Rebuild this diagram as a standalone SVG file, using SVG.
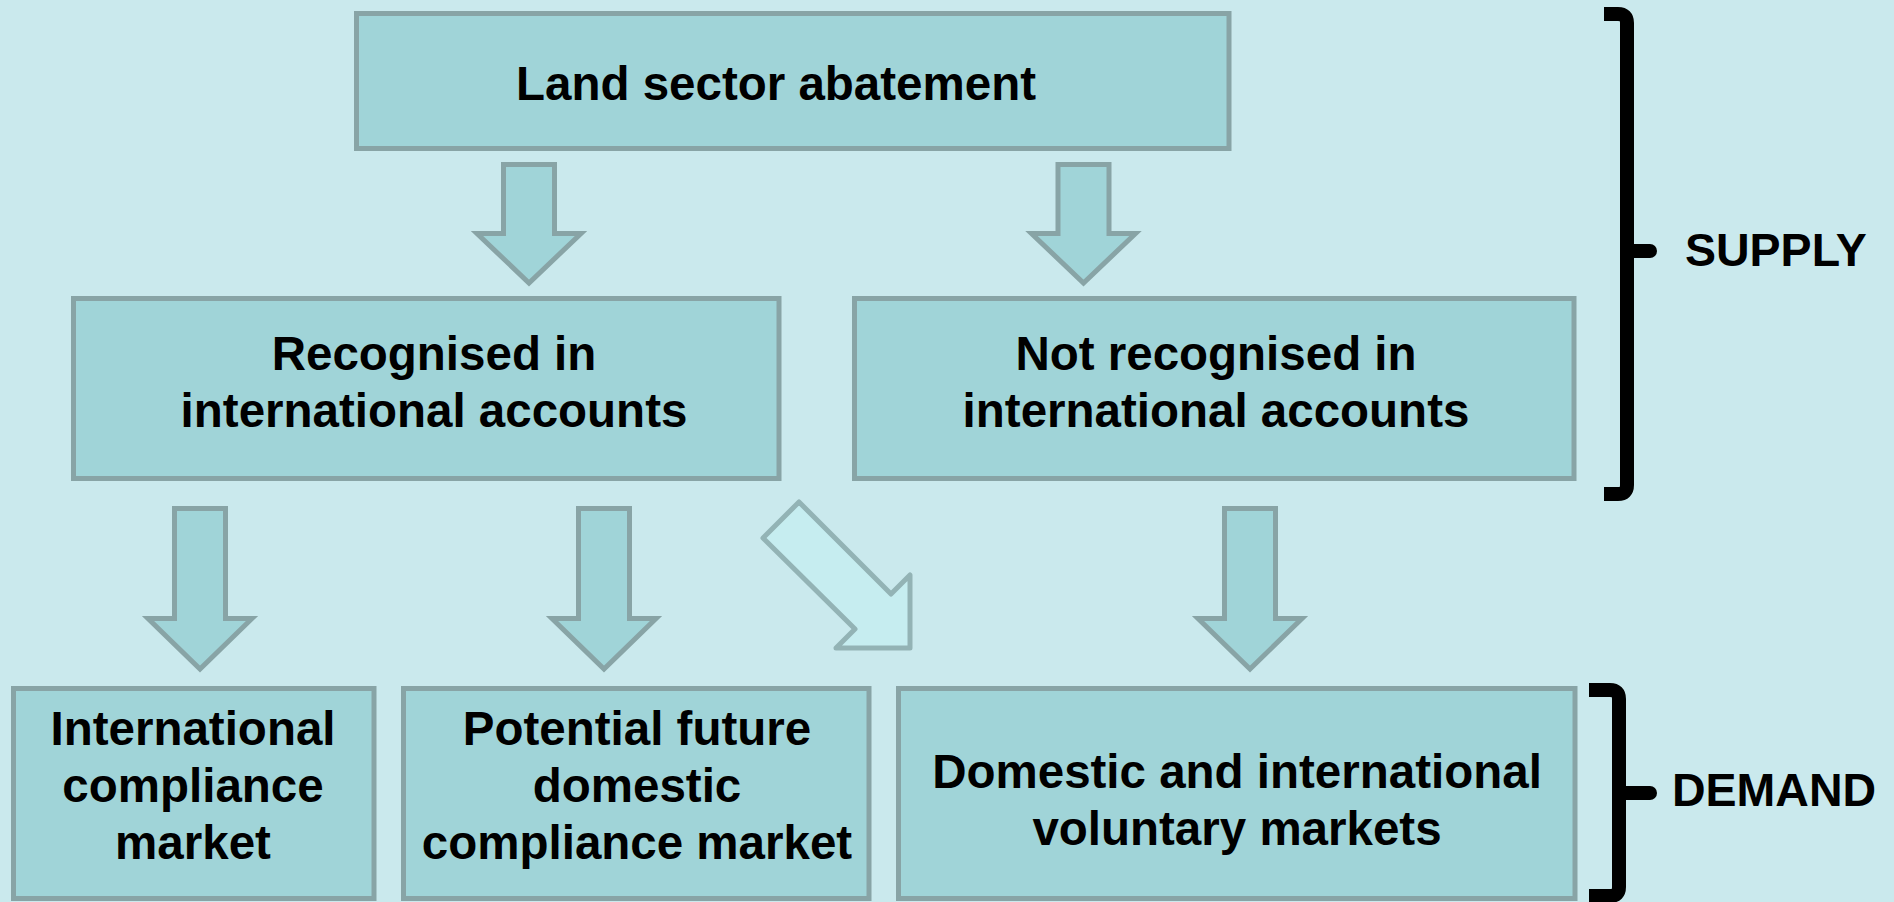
<svg xmlns="http://www.w3.org/2000/svg" width="1894" height="902" viewBox="0 0 1894 902">
<style>
.box{fill:#a0d4d8;stroke:#88a4a6;stroke-width:5}
.arr{fill:#a0d4d8;stroke:#88a4a6;stroke-width:5;stroke-linejoin:miter}
.darr{fill:#c6edf0;stroke:#93b3b5;stroke-width:5;stroke-linejoin:round}
.t{font-family:"Liberation Sans",Arial,sans-serif;font-weight:bold;font-size:47.5px;fill:#000;text-anchor:middle}
.lbl{font-family:"Liberation Sans",Arial,sans-serif;font-weight:bold;font-size:46.5px;fill:#000}
.br{fill:none;stroke:#000;stroke-width:14;stroke-linejoin:round}
.nub{stroke:#000;stroke-width:14;stroke-linecap:round}
</style>
<rect x="0" y="0" width="1894" height="902" fill="#cae9ed"/>
<g id="connectors">
<polygon class="arr" points="503.5,164.5 554.5,164.5 554.5,233.5 581,233.5 529,283 477,233.5 503.5,233.5"/>
<polygon class="arr" points="1058,164.5 1109,164.5 1109,233.5 1135.5,233.5 1083.5,283 1031.5,233.5 1058,233.5"/>
<polygon class="arr" points="174.5,508.5 225.5,508.5 225.5,618.5 252,618.5 200,669 148,618.5 174.5,618.5"/>
<polygon class="arr" points="578.5,508.5 629.5,508.5 629.5,618.5 656,618.5 604,669 552,618.5 578.5,618.5"/>
<polygon class="arr" points="1224.5,508.5 1275.5,508.5 1275.5,618.5 1302,618.5 1250,669 1198,618.5 1224.5,618.5"/>
<polygon class="darr" points="763,538 799,502 891,594 910,575 910,648 836,648 855,629"/>
</g>
<g id="node-land">
<rect class="box" x="356.5" y="13.5" width="872.5" height="135"/>
<text class="t" x="776" y="100">Land sector abatement</text>
</g>
<g id="node-recognised">
<rect class="box" x="73.5" y="298.5" width="705.5" height="180"/>
<text class="t" x="434" y="370">Recognised in</text>
<text class="t" x="434" y="427">international accounts</text>
</g>
<g id="node-not-recognised">
<rect class="box" x="854.5" y="298.5" width="719.5" height="180"/>
<text class="t" x="1216" y="370">Not recognised in</text>
<text class="t" x="1216" y="427">international accounts</text>
</g>
<g id="node-intl-compliance">
<rect class="box" x="13.5" y="688.5" width="360.5" height="210"/>
<text class="t" x="193" y="745">International</text>
<text class="t" x="193" y="802">compliance</text>
<text class="t" x="193" y="859">market</text>
</g>
<g id="node-domestic-compliance">
<rect class="box" x="403.5" y="688.5" width="465.5" height="210"/>
<text class="t" x="637" y="745">Potential future</text>
<text class="t" x="637" y="802">domestic</text>
<text class="t" x="637" y="859">compliance market</text>
</g>
<g id="node-voluntary">
<rect class="box" x="898.5" y="688.5" width="676.5" height="210"/>
<text class="t" x="1237" y="788">Domestic and international</text>
<text class="t" x="1237" y="845">voluntary markets</text>
</g>
<g id="bracket-supply">
<path class="br" d="M1604,14 H1618 Q1627,14 1627,23 V485 Q1627,494 1618,494 H1604"/>
<line class="nub" x1="1627" y1="251" x2="1650" y2="251"/>
<text class="lbl" x="1685" y="266">SUPPLY</text>
</g>
<g id="bracket-demand">
<path class="br" d="M1589,690 H1610 Q1619,690 1619,699 V887 Q1619,896 1610,896 H1589"/>
<line class="nub" x1="1619" y1="793" x2="1650" y2="793"/>
<text class="lbl" x="1672" y="806">DEMAND</text>
</g>
</svg>
